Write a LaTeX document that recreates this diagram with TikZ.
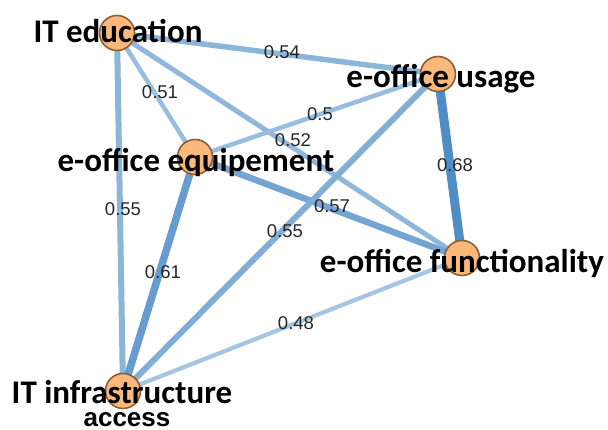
\documentclass[tikz,border=0pt]{standalone}
\usepackage{fontspec}
\newfontfamily\labfont{Carlito}
\newfontfamily\arialfont{Liberation Sans}
\pgfdeclarelayer{bg}
\pgfsetlayers{bg,main}
\definecolor{edgeblue}{RGB}{70,135,195}
\definecolor{nodefill}{RGB}{250,185,122}
\definecolor{nodeline}{RGB}{140,95,55}
\tikzset{
  vert/.style={circle, draw=nodeline, line width=1.6pt, fill=nodefill, minimum size=35pt, inner sep=0pt},
  vlabel/.style={anchor=base, inner sep=0pt, font=\labfont\bfseries\fontsize{33}{33}\selectfont, text=black},
  sublabel/.style={anchor=base, inner sep=0pt, font=\arialfont\bfseries\fontsize{26}{26}\selectfont, text=black},
  wlabel/.style={anchor=base, inner sep=0pt, font=\arialfont\fontsize{18.5}{18.5}\selectfont, text=black!85},
  edge/.style args={#1/#2}{draw=edgeblue!#1!white, line width=#2pt, line cap=butt}
}
\begin{document}
\begin{tikzpicture}[x=1pt,y=-1pt]
\useasboundingbox (0,0) rectangle (608,430);
% vertices
\node[vert] (ed) at (117,33) {};
\node[vert] (us) at (438,74) {};
\node[vert] (eq) at (195,157) {};
\node[vert] (fu) at (462,258) {};
\node[vert] (in) at (123,391) {};
% edges
\begin{pgfonlayer}{bg}
\draw[edge=62/5.5] (ed.center) -- (us.center);
\draw[edge=55/4.5] (ed.center) -- (eq.center);
\draw[edge=60/5]   (ed.center) -- (fu.center);
\draw[edge=62/6]   (ed.center) -- (in.center);
\draw[edge=55/4.5] (eq.center) -- (us.center);
\draw[edge=95/9]   (us.center) -- (fu.center);
\draw[edge=75/6.5] (eq.center) -- (fu.center);
\draw[edge=82/7.5] (eq.center) -- (in.center);
\draw[edge=68/6]   (us.center) -- (in.center);
\draw[edge=48/4.2] (fu.center) -- (in.center);
\end{pgfonlayer}
% weight labels
\node[wlabel] (w1) at (282,59) {0.54};
\node[wlabel] (w2) at (160,99) {0.51};
\node[wlabel] (w3) at (293,147) {0.52};
\node[wlabel] (w4) at (320,121) {0.5};
\node[wlabel] (w5) at (455,172) {0.68};
\node[wlabel] (w6) at (123,216) {0.55};
\node[wlabel] (w7) at (163,279) {0.61};
\node[wlabel] (w8) at (285,238) {0.55};
\node[wlabel] (w9) at (296,330) {0.48};
\node[wlabel] (w10) at (332,213) {0.57};
% vertex labels
\node[vlabel] (ted) at (118,43) {IT education};
\node[vlabel] (tus) at (441,88) {e-office usage};
\node[vlabel] (teq) at (196,172) {e-office equipement};
\node[vlabel] (tfu) at (462,273) {e-office functionality};
\node[vlabel] (tin) at (122,403) {IT infrastructure};
\node[sublabel] (tac) at (127,426) {access};
\end{tikzpicture}
\end{document}
